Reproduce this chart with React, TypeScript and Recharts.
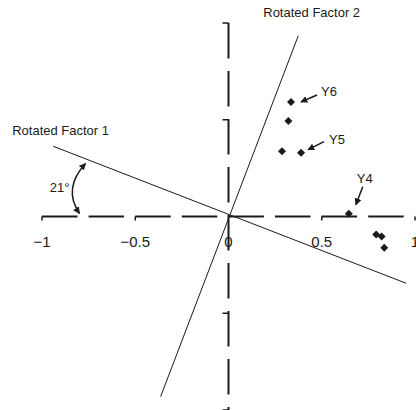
import {
  ScatterChart,
  Scatter,
  XAxis,
  YAxis,
  ReferenceLine,
  ReferenceDot,
} from "recharts";

// loadings after rotation
const loadX = [0.335, 0.321, 0.287, 0.389, 0.645, 0.792, 0.821, 0.835];
const loadY = [0.592, 0.494, 0.337, 0.33, 0.014, -0.093, -0.104, -0.161];
const pointNames = ["Y6", "", "", "Y5", "Y4", "", "", ""];

const xTickMarks = [-1, -0.5, 0.5, 1];
const xTickLabels = [-1, -0.5, 0, 0.5, 1];
const yTickMarks = [-1, -0.5, 0.5, 1];

const factor1Line = [
  { x: -0.94, y: 0.363 },
  { x: 0.952, y: -0.345 },
];
const factor2Line = [
  { x: 0.374, y: 0.934 },
  { x: -0.364, y: -0.931 },
];

const points = loadX.map((x, i) => ({ x, y: loadY[i], name: pointNames[i] }));

const FONT = "'Liberation Sans', Arial, Helvetica, sans-serif";
const INK = "#1a1a1a";

// arrow placement for the named points (pixel offsets from the point)
const callouts: Record<string, { from: [number, number]; to: [number, number]; text: [number, number] }> = {
  Y6: { from: [26, -7], to: [10, 0], text: [30, -10] },
  Y5: { from: [23, -11], to: [7, -3], text: [28, -13] },
  Y4: { from: [14, -27], to: [7, -9], text: [8, -35] },
};

function fmt(v: number) {
  return v < 0 ? "\u2212" + String(-v) : String(v);
}

function Arrowheads() {
  return (
    <defs>
      <marker
        id="head"
        viewBox="0 0 10 10"
        refX="9"
        refY="5"
        markerWidth="7"
        markerHeight="7"
        markerUnits="userSpaceOnUse"
        orient="auto-start-reverse"
      >
        <path d="M0,0 L10,5 L0,10 z" fill={INK} />
      </marker>
    </defs>
  );
}

function PointShape(props: any) {
  const { cx, cy, payload } = props;
  const c = callouts[payload.name];
  return (
    <g>
      <polygon
        points={`${cx},${cy - 4} ${cx + 4},${cy} ${cx},${cy + 4} ${cx - 4},${cy}`}
        fill={INK}
      />
      {c && (
        <g>
          <line
            x1={cx + c.from[0]}
            y1={cy + c.from[1]}
            x2={cx + c.to[0]}
            y2={cy + c.to[1]}
            stroke={INK}
            strokeWidth={1.5}
            markerEnd="url(#head)"
          />
          <text
            x={cx + c.text[0]}
            y={cy + c.text[1]}
            dominantBaseline="central"
            fontFamily={FONT}
            fontSize={13}
            fill={INK}
          >
            {payload.name}
          </text>
        </g>
      )}
    </g>
  );
}

export default function App() {
  return (
    <div style={{ position: "absolute", left: 0, top: 0, background: "#fff" }}>
      <ScatterChart
        width={416}
        height={410}
        margin={{ top: 23, right: 1, bottom: 0, left: 42 }}
      >
        <Arrowheads />
        <XAxis type="number" dataKey="x" domain={[-1, 1]} hide />
        <YAxis type="number" dataKey="y" domain={[-1, 1]} hide />

        {/* axes through the origin */}
        <ReferenceLine
          segment={[
            { x: -1, y: 0 },
            { x: 1, y: 0 },
          ]}
          stroke={INK}
          strokeWidth={2}
          strokeDasharray="35.5 11.1"
        />
        <ReferenceLine
          segment={[
            { x: 0, y: 1 },
            { x: 0, y: -1 },
          ]}
          stroke={INK}
          strokeWidth={2}
          strokeDasharray="35.5 12.5"
        />

        {xTickMarks.map((t) => (
          <ReferenceDot
            key={"xt" + t}
            x={t}
            y={0}
            r={0}
            shape={(p: any) => (
              <line x1={p.cx} y1={p.cy} x2={p.cx} y2={p.cy + 4} stroke={INK} strokeWidth={1.5} />
            )}
          />
        ))}
        {xTickLabels.map((t) => (
          <ReferenceDot
            key={"xl" + t}
            x={t}
            y={0}
            r={0}
            shape={(p: any) => (
              <text
                x={p.cx}
                y={p.cy + 25}
                textAnchor="middle"
                dominantBaseline="central"
                fontFamily={FONT}
                fontSize={15}
                fill={INK}
              >
                {fmt(t)}
              </text>
            )}
          />
        ))}
        {yTickMarks.map((t) => (
          <ReferenceDot
            key={"yt" + t}
            x={0}
            y={t}
            r={0}
            shape={(p: any) => (
              <line x1={p.cx - 6} y1={p.cy} x2={p.cx} y2={p.cy} stroke={INK} strokeWidth={1.5} />
            )}
          />
        ))}

        {/* rotated factor axes */}
        <ReferenceLine segment={factor1Line} stroke={INK} strokeWidth={1} />
        <ReferenceLine segment={factor2Line} stroke={INK} strokeWidth={1} />
        <ReferenceDot
          x={factor1Line[0].x}
          y={factor1Line[0].y}
          r={0}
          shape={(p: any) => (
            <text
              x={p.cx - 41}
              y={p.cy - 16}
              dominantBaseline="central"
              fontFamily={FONT}
              fontSize={13}
              fill={INK}
            >
              Rotated Factor 1
            </text>
          )}
        />
        <ReferenceDot
          x={factor2Line[0].x}
          y={factor2Line[0].y}
          r={0}
          shape={(p: any) => (
            <text
              x={p.cx - 35}
              y={p.cy - 23}
              dominantBaseline="central"
              fontFamily={FONT}
              fontSize={13}
              fill={INK}
            >
              Rotated Factor 2
            </text>
          )}
        />

        {/* rotation angle */}
        <ReferenceDot
          x={0}
          y={0}
          r={0}
          shape={(p: any) => (
            <g>
              <path
                d={`M${p.cx - 143},${p.cy - 53} Q${p.cx - 166},${p.cy - 28} ${p.cx - 149},${p.cy - 3}`}
                fill="none"
                stroke={INK}
                strokeWidth={1.5}
                markerStart="url(#head)"
                markerEnd="url(#head)"
              />
              <text
                x={p.cx - 159}
                y={p.cy - 29}
                textAnchor="end"
                dominantBaseline="central"
                fontFamily={FONT}
                fontSize={13}
                fill={INK}
              >
                21°
              </text>
            </g>
          )}
        />

        <Scatter data={points} shape={<PointShape />} isAnimationActive={false} />
      </ScatterChart>
    </div>
  );
}
